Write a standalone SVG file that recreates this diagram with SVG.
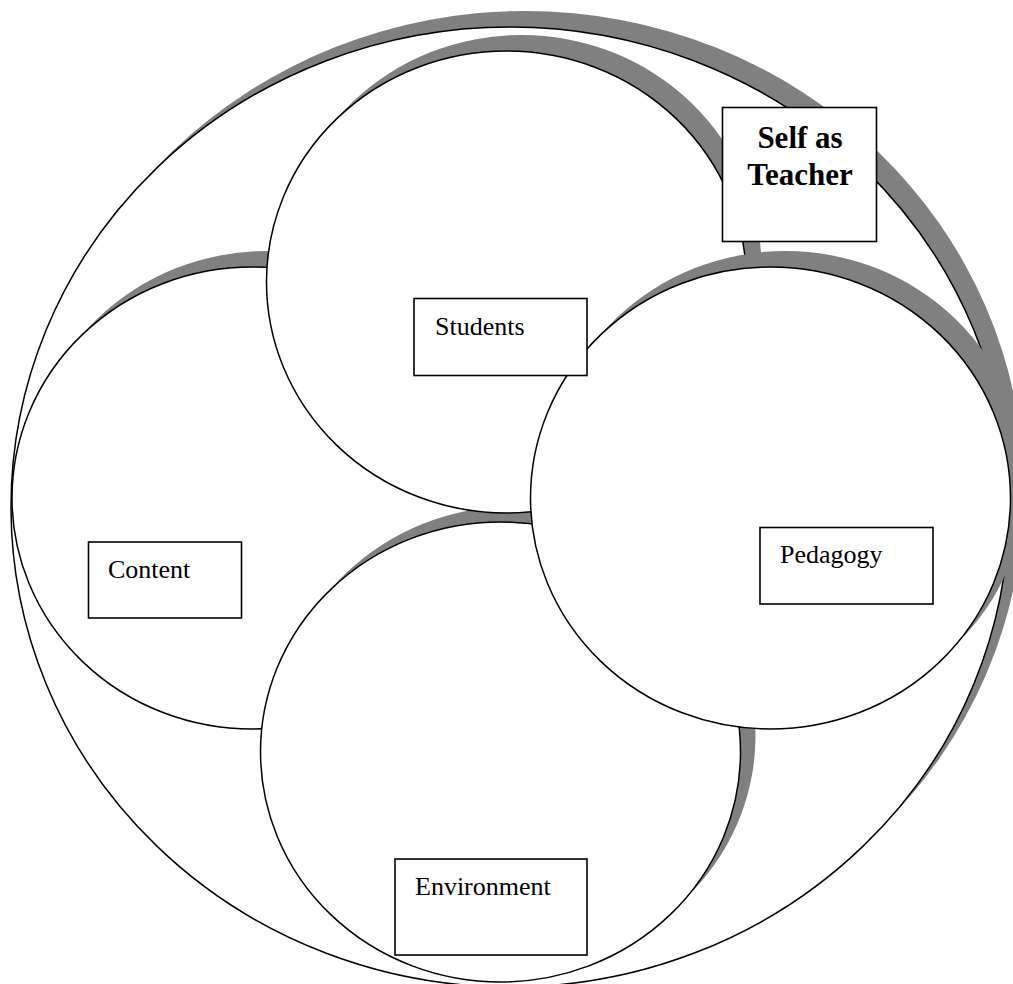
<svg xmlns="http://www.w3.org/2000/svg" width="1013" height="984" viewBox="0 0 1013 984">
<style>
.sh{fill:#808080;stroke:none}
.el{fill:#fff;stroke:#000;stroke-width:1.5}
.box{fill:#fff;stroke:#000;stroke-width:1.6}
.lbl{font-family:"Liberation Serif","Times New Roman",serif;font-size:26px;fill:#000}
.ttl{font-family:"Liberation Serif","Times New Roman",serif;font-size:31px;font-weight:bold;fill:#000;text-anchor:middle}
</style>
<rect width="1013" height="984" fill="#fff"/>
<g id="outer">
<ellipse class="sh" cx="525" cy="491" rx="499" ry="480"/>
<ellipse class="el" cx="510" cy="507" rx="499" ry="480"/>
</g>
<g id="content-circle">
<ellipse class="sh" cx="267" cy="482" rx="240" ry="231"/>
<ellipse class="el" cx="252" cy="498" rx="240" ry="231"/>
</g>
<g id="environment-circle">
<ellipse class="sh" cx="515.5" cy="736" rx="240" ry="230"/>
<ellipse class="el" cx="500.5" cy="752" rx="240" ry="230"/>
</g>
<g id="students-circle">
<ellipse class="sh" cx="521.5" cy="266" rx="240" ry="231"/>
<ellipse class="el" cx="506.5" cy="282" rx="240" ry="231"/>
</g>
<g id="pedagogy-circle">
<ellipse class="sh" cx="785.5" cy="482" rx="240" ry="231"/>
<ellipse class="el" cx="770.5" cy="498" rx="240" ry="231"/>
</g>
<g id="connectors"></g>
<g id="self-as-teacher">
<rect class="box" x="722.5" y="107.5" width="154" height="134"/>
<text class="ttl" x="800" y="148">Self as</text>
<text class="ttl" x="800" y="185">Teacher</text>
</g>
<g id="students">
<rect class="box" x="414" y="298.5" width="173" height="77"/>
<text class="lbl" x="435" y="335">Students</text>
</g>
<g id="content">
<rect class="box" x="88.5" y="542" width="153" height="76"/>
<text class="lbl" x="108" y="578">Content</text>
</g>
<g id="pedagogy">
<rect class="box" x="760" y="527.5" width="173" height="76.5"/>
<text class="lbl" x="780" y="563">Pedagogy</text>
</g>
<g id="environment">
<rect class="box" x="395" y="859" width="192" height="96"/>
<text class="lbl" x="415" y="895">Environment</text>
</g>
</svg>
